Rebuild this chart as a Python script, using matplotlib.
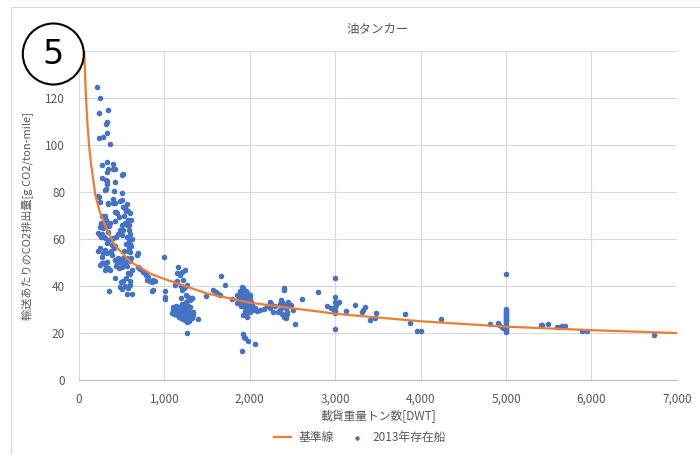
import matplotlib
matplotlib.use("Agg")
import matplotlib.pyplot as plt
from matplotlib.patches import Circle, Rectangle
from matplotlib.ticker import FuncFormatter

plt.rcParams['font.family'] = ['Noto Sans CJK JP', 'DejaVu Sans']

# baseline curve
base_dwt = [60, 80, 100, 117, 140, 164, 191, 242, 320, 418, 600, 850, 1000,
            1500, 2000, 3000, 4000, 5000, 6000, 7000]
base_co2 = [141, 121, 108, 100, 92, 85.8, 78.7, 71.6, 64.5, 57.4, 50.3, 45, 43,
            36.8, 32.9, 28.2, 25.0, 22.7, 21.2, 20.0]

# ships existing in 2013 (DWT, g CO2/ton-mile)
ship_dwt = [
    # small tankers, upper outliers
    207, 246, 238, 344, 325, 313, 332, 238, 285, 363, 266, 332, 402, 344, 422,
    512, 266, 328, 311, 422, 395, 500, 313, 332, 325, 305, 414, 508, 500, 395,
    # small tankers, main cluster
    226, 240, 258, 270, 290, 305, 222, 246, 265, 281, 300, 325, 250, 266, 290,
    310, 325, 305, 340, 363, 246, 262, 281, 266, 305, 252, 300, 320, 345, 355,
    363, 330, 350, 383, 370, 390, 410, 422, 400, 430, 460, 480, 500, 520, 540,
    559, 575, 585, 598, 560, 580, 600, 590, 575, 598, 610, 620, 545, 530, 520,
    540, 560, 580, 598, 610, 500, 480, 460, 445, 422, 463, 430, 500, 530, 559,
    575, 600, 620, 600, 555, 520, 490, 422, 481, 500, 540, 574, 598, 559, 617,
    355, 505, 525, 545, 590, 605, 600, 578, 560, 470, 441, 422, 519, 481, 420,
    344, 402, 227, 246, 234, 540, 552, 437, 418, 340,
    # 650 - 1000
    676, 695, 695, 715, 700, 760, 773, 793, 812, 852, 871, 852, 864, 832, 890,
    750, 780, 1000, 1008, 1008, 1008,
    # 1100 - 1400
    1160, 1145, 1180, 1204, 1242, 1222, 1262, 1240, 1137, 1125, 1204, 1230, 1195,
    1250, 1280, 1300, 1321, 1328, 1150, 1190,
    1090, 1095, 1100, 1105, 1110, 1115, 1120, 1125, 1130, 1135, 1140, 1145, 1150,
    1155, 1160, 1165, 1170, 1175, 1180, 1185, 1190, 1195, 1200, 1205, 1210, 1215,
    1220, 1225, 1230, 1235, 1240, 1245, 1250, 1255, 1260, 1265, 1270, 1275, 1280,
    1285, 1290, 1295, 1300, 1310, 1320, 1330, 1340, 1262, 1391, 1200, 1250,
    1235, 1260, 1285, 1215, 1245, 1275,
    # 1480 - 2100
    1488, 1574, 1600, 1630, 1653, 1661, 1711, 1790, 1848, 1887,
    1907, 1918, 1890, 1930, 1850, 1870, 1900, 1940, 1960, 1980, 2000, 1880, 1910,
    1930, 1950, 1970, 1990, 2010, 2030, 1900, 1920, 1945, 1960, 1985, 2005, 2020,
    2040, 2060, 2080, 1940, 1970, 2000, 1918, 1965, 1918, 1930, 1946, 1973, 2055,
    1907, 2000, 1960, 1925, 1955, 1990,
    # 2100 - 2600
    2121, 2160, 2231, 2239, 2200, 2250, 2270, 2300, 2333, 2356, 2380, 2395, 2403,
    2380, 2410, 2420, 2434, 2400, 2420, 2440, 2460, 2485, 2500, 2450, 2532, 2610,
    2370, 2350, 2390,
    # 2750 - 3500
    2793, 2903, 2950, 3000, 3000, 3000, 3000, 3000, 3000, 2990, 3010, 3040, 3000,
    3129, 3227, 3313, 3330, 3352, 3403, 3469, 3477,
    # 3800 - 5000
    3821, 3879, 3958, 4005, 4239, 4809, 4900, 4922, 4954, 4966, 5001,
    5000, 5000, 5000, 5000, 5000, 5000, 5000, 5000, 5000, 5000, 5000, 5000,
    5000, 5000, 5000, 5000, 5000,
    # 5400 - 6800
    5403, 5423, 5489, 5598, 5630, 5660, 5685, 5891, 5942, 6731,
]
ship_co2 = [
    124.5, 120, 113.5, 114.9, 109.6, 109, 105.2, 102.8, 103.5, 100.6, 91.5, 92.9,
    91.9, 89.8, 90, 87.5, 85.8, 84.7, 81.3, 84.4, 89.6, 87.2, 85.1, 88.6, 83.3,
    80.9, 80.6, 79.7, 76.6, 77,
    62.5, 61.5, 60.8, 62, 61, 60.5, 55, 56, 52.5, 54, 55.3, 54, 49, 49.6, 50,
    48, 50.3, 46.8, 47.7, 47, 65, 67, 64.7, 69.8, 69.8, 66, 66, 68, 63, 65.5,
    66.8, 58.5, 59.6, 57.4, 55, 53, 56, 57, 60.4, 61, 62, 63.8, 66, 64, 67,
    66, 68, 64, 62, 61, 59, 58, 56, 55, 54.5, 57, 60, 58, 55, 52,
    50, 52, 51, 50.5, 52, 50, 51, 52, 50, 51, 47.5, 48.5, 48.2, 48.9, 48.5,
    45.5, 45, 47, 42, 43.5, 42, 41.7, 43.4, 39.7, 38.7, 40, 39, 40.4, 36.6, 36.6,
    38, 61.5, 70, 72, 66, 68, 71, 72, 75, 69.5, 70.9, 71.6, 73.5, 76.3, 75.2,
    75.2, 75.2, 78.3, 75.9, 77.9, 73.2, 72.5, 71.5, 67.7, 74.9,
    53.2, 54.1, 48.2, 47.2, 47.5, 46, 45.5, 42.6, 44, 41.5, 42.6, 38, 38.3, 42,
    42, 46, 44.5, 52.2, 38, 35.5, 34.3,
    48.2, 45.5, 44.7, 46, 47, 42.6, 40.4, 39.7, 41.8, 40.4, 38.3, 39, 34.8,
    36, 35.5, 34, 34.8, 34.8, 42, 40,
    28.5, 30, 29, 31, 28, 30.5, 29.5, 28, 31.5, 29, 30, 27.5, 29,
    31, 28.5, 30, 27, 29.5, 31, 28, 30, 26.5, 29, 31.5, 28, 30,
    26, 32, 29, 27, 30.5, 25.5, 28.5, 31, 27, 29.5, 26, 30, 28,
    25, 29, 27, 31, 28, 26.5, 29, 27.5, 20.1, 25.8, 32.5, 33,
    25.5, 24.8, 26.5, 27.2, 29.8, 31.5,
    35.9, 38.3, 37.5, 36.5, 36, 44.3, 40.4, 34.5, 32.6, 33.3,
    39.7, 39, 38, 37.5, 36, 35, 36.5, 36, 35, 36.5, 35, 33.5, 34,
    33, 34, 33.5, 32, 33, 32, 31.5, 32, 31, 30.5, 31, 30.5, 31,
    30, 30.5, 29.5, 29.5, 29, 29, 27.5, 27, 19.6, 18.5, 17.8, 16.6, 15.3,
    12.5, 36, 38, 35.2, 32.6, 34.2,
    29.8, 30.2, 30.6, 33.3, 31.5, 32.5, 29, 31.5, 29, 30, 28, 39, 38.5,
    33, 32, 30.5, 29, 27, 26.2, 28, 31.5, 31.9, 30, 33, 23.7, 34.3,
    34, 32.5, 31,
    37.3, 31.5, 30.5, 43.5, 35.5, 33, 31, 29.5, 28.5, 30, 32, 33.3, 21.7,
    29.4, 31.9, 29, 30, 31.2, 25.5, 26.2, 28.5,
    28, 24.4, 20.9, 20.9, 25.8, 23.7, 24.4, 23.4, 22.7, 22, 45.1,
    20.6, 21.2, 21.9, 22.4, 23.1, 23.6, 24.2, 24.9, 25.4, 26.1, 26.6, 27.3,
    27.8, 28.4, 29.1, 29.6, 30.2,
    23.4, 23.5, 24, 22.4, 22.6, 22.8, 23, 20.9, 20.9, 19,
]

x_ticks = [0, 1000, 2000, 3000, 4000, 5000, 6000, 7000]
y_ticks = [0, 20, 40, 60, 80, 100, 120, 140]
# the 140 label sits under the circled number in the original
y_labels = ["0", "20", "40", "60", "80", "100", "120", ""]

TEXT = "#595959"
GRID = "#D9D9D9"

fig = plt.figure(figsize=(7, 4.55), dpi=100)
ax = fig.add_axes([0.1129, 0.1648, 0.8541, 0.7231])

ax.scatter(ship_dwt, ship_co2, s=16, color="#4472C4", zorder=3,
           label="2013年存在船", linewidths=0)
ax.plot(base_dwt, base_co2, color="#ED7D31", lw=1.6, zorder=4, label="基準線")

ax.set_xlim(0, 7000)
ax.set_ylim(0, 140)
ax.set_xticks(x_ticks)
ax.set_yticks(y_ticks)
ax.set_yticklabels(y_labels)
ax.xaxis.set_major_formatter(FuncFormatter(lambda v, p: f"{int(v):,}"))
ax.grid(True, color=GRID, lw=0.8, zorder=0)
ax.set_axisbelow(True)
for s in ax.spines.values():
    s.set_visible(False)
ax.spines['bottom'].set_visible(True)
ax.spines['bottom'].set_color("#BFBFBF")
ax.tick_params(length=0, labelsize=8.5, labelcolor=TEXT)
ax.tick_params(axis='y', pad=10)
ax.tick_params(axis='x', pad=9)

ax.set_xlabel("載貨重量トン数[DWT]", fontsize=8.5, color=TEXT, labelpad=3)
ax.set_ylabel("輸送あたりのCO2排出量[g CO2/ton-mile]", fontsize=8, color=TEXT,
              labelpad=8)
ax.set_title("油タンカー", fontsize=9, color=TEXT, pad=13)

fig.legend(handles=ax.get_legend_handles_labels()[0][::-1],
           loc="lower center", bbox_to_anchor=(0.514, 0.0), ncol=2,
           frameon=False, fontsize=8.5, labelcolor=TEXT, handlelength=1.5,
           handletextpad=0.6, columnspacing=1.2, markerscale=0.8)

# chart frame
fig.add_artist(Rectangle((0.11, -0.1), 7.0, 4.58, transform=fig.dpi_scale_trans,
                         fill=False, ec=GRID, lw=0.8))

# circled number
fig.add_artist(Circle((0.533, 4.01), 0.305, transform=fig.dpi_scale_trans,
                      fc="white", ec="black", lw=1.5, zorder=10))
fig.text(0.533, 4.01, "5", transform=fig.dpi_scale_trans, fontsize=24,
         ha="center", va="center", color="black", zorder=11,
         family="DejaVu Sans")

fig.savefig("out.png", dpi=100)
